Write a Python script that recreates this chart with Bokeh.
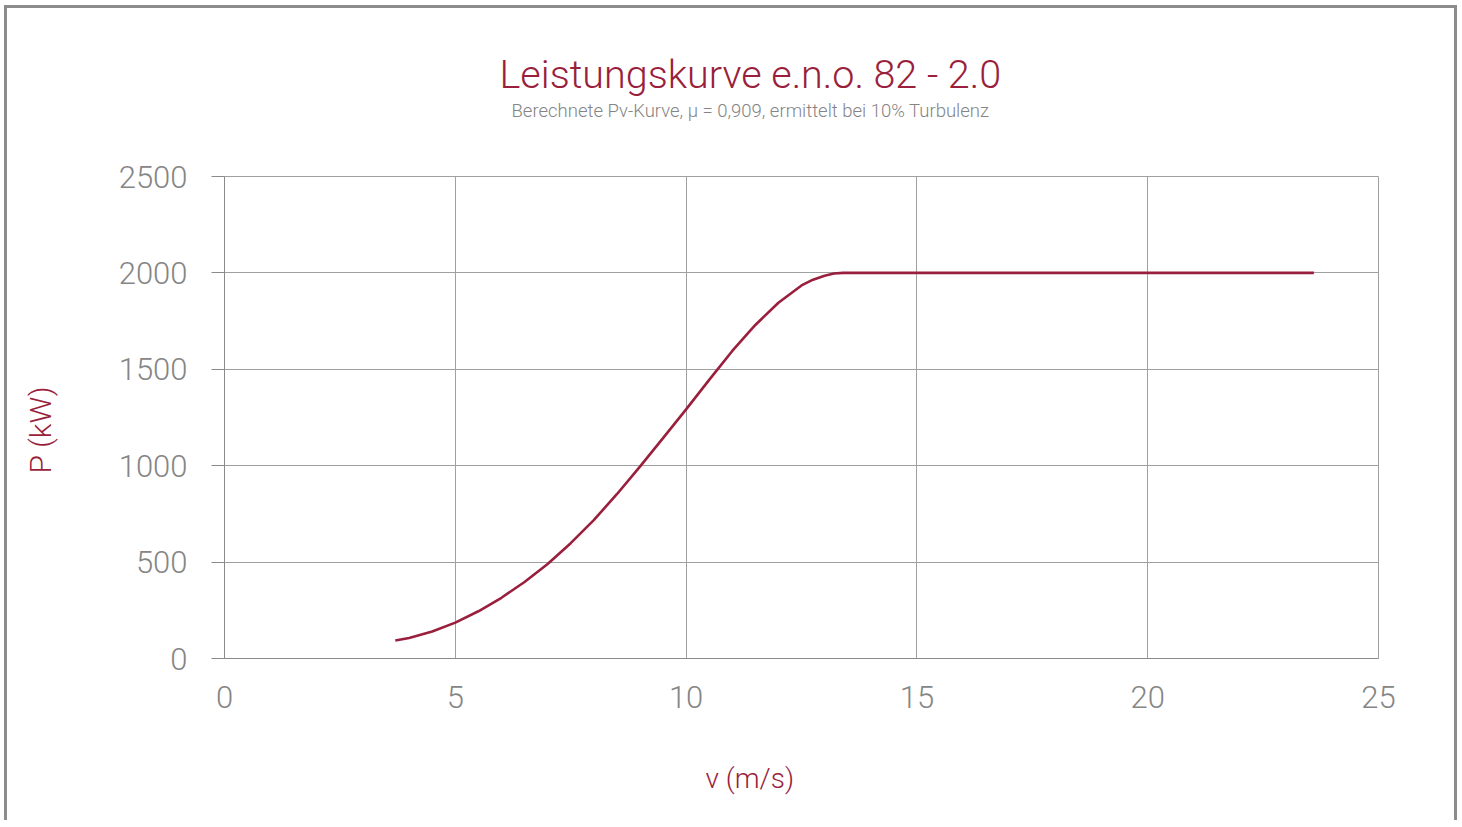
from bokeh.plotting import figure
from bokeh.models import Range1d, Title, FixedTicker
from bokeh.embed import file_html
from bokeh.resources import INLINE

# Data
wind_speed = [3.7, 4.0, 4.5, 5.0, 5.5, 6.0, 6.5, 7.0, 7.5, 8.0, 8.5, 9.0, 9.5, 10.0,
              10.5, 11.0, 11.5, 12.0, 12.5, 12.75, 13.0, 13.2, 13.4, 16.0, 20.0, 23.6]
power_kw = [93, 106, 140, 186, 245, 315, 397, 490, 598, 718, 852, 995, 1143, 1292,
            1445, 1595, 1730, 1845, 1935, 1965, 1985, 1997, 2000, 2000, 2000, 2000]
x_ticks = [0, 5, 10, 15, 20, 25]
y_ticks = [0, 500, 1000, 1500, 2000, 2500]

title_text = "Leistungskurve e.n.o. 82 - 2.0"
subtitle_text = "Berechnete Pv-Kurve, \u00b5 = 0,909, ermittelt bei 10% Turbulenz"
x_label = "v (m/s)"
y_label = "P (kW)"

WINE = "#9a1f3c"
GRAY_TXT = "#858585"
GRID = "#a0a0a0"
AXIS = "#8a8a8a"
FONT = "Roboto Light"

W, H = 1453, 815
FL, FT, FW, FH = 217, 168, 1154, 482

p = figure(width=W, height=H, output_backend="svg", toolbar_location=None,
           x_range=Range1d(0, 25), y_range=Range1d(0, 2500),
           min_border_left=FL, min_border_top=FT,
           min_border_right=W - FL - FW, min_border_bottom=H - FT - FH,
           tools="")
p.styles = {"margin-left": "4px", "margin-top": "5px",
            "border-top": "3px solid #8c8c8c", "border-left": "3px solid #8c8c8c",
            "border-right": "3px solid #8c8c8c"}

p.line(wind_speed, power_kw, line_color=WINE, line_width=2.6)

p.xaxis.ticker = FixedTicker(ticks=x_ticks)
p.yaxis.ticker = FixedTicker(ticks=y_ticks)
for ax in (p.xaxis[0], p.yaxis[0]):
    ax.axis_line_color = AXIS
    ax.major_tick_line_color = AXIS
    ax.minor_tick_line_color = None
    ax.major_tick_in = 0
    ax.major_label_text_font = FONT
    ax.major_label_text_font_size = "31px"
    ax.major_label_text_color = GRAY_TXT
p.xaxis.major_tick_out = 0
p.xaxis.major_label_standoff = 27
p.yaxis.major_tick_out = 13
p.yaxis.major_label_standoff = 24

p.xgrid.ticker = FixedTicker(ticks=x_ticks)
p.ygrid.ticker = FixedTicker(ticks=y_ticks)
p.grid.grid_line_color = GRID
p.grid.grid_line_width = 1
p.outline_line_color = GRID
p.outline_line_width = 1

# titles above (spacer between frame and subtitle)
p.add_layout(Title(text=" ", text_font_size="1px", standoff=52), "above")
p.add_layout(Title(text=subtitle_text, align="left", offset=511 - 224, standoff=0,
                   text_font=FONT, text_font_size="18.5px", text_font_style="normal",
                   text_color=GRAY_TXT), "above")
p.add_layout(Title(text=title_text, align="left", offset=499 - 224, standoff=0,
                   text_font=FONT, text_font_size="39.5px", text_font_style="normal",
                   text_color=WINE), "above")

# x label below (spacer between axis and label)
p.add_layout(Title(text=" ", text_font_size="1px", standoff=46), "below")
p.add_layout(Title(text=x_label, align="left", offset=705 - 224, standoff=0,
                   text_font=FONT, text_font_size="28px", text_font_style="normal",
                   text_color=WINE), "below")

# y label on the left (spacer between axis and label)
p.add_layout(Title(text=" ", text_font_size="1px", standoff=55), "left")
p.add_layout(Title(text=y_label, align="left", offset=658 - 473, standoff=0,
                   text_font=FONT, text_font_size="30px", text_font_style="normal",
                   text_color=WINE), "left")

open("out.html", "w").write(file_html(p, INLINE))
